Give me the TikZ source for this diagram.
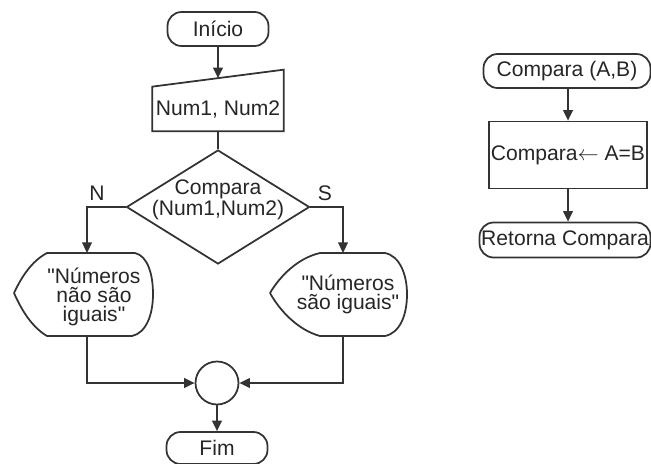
\documentclass[tikz,border=0pt]{standalone}
\usepackage{fontspec}
\setmainfont{Liberation Sans}[Ligatures=TeXOff]
\usepackage{tikz}
\usetikzlibrary{shapes.geometric,arrows.meta,calc}

\tikzset{
    flow/.style={draw=black!80, line width=1pt},
    arr/.style={flow, -{Triangle[length=6pt,width=5.5pt]}},
    terminal/.style={flow, rectangle, rounded corners=8pt,
        minimum height=0.68cm, inner sep=0pt},
    txt/.style={font=\fontsize{12}{10.8}\selectfont, text=black!85,
        align=center, inner sep=0pt}
}

\begin{document}
\begin{tikzpicture}[x=0.02cm, y=-0.02cm, every node/.append style={txt}]

    \useasboundingbox (0,0) rectangle (651,463);

    % Main flowchart
    \node[terminal, minimum width=2.02cm] (inicio) at (218,29) {Início};

    \node[minimum width=2.62cm, minimum height=0.88cm] (inp) at (218,109) {Num1, Num2};
    \draw[flow] (inp.south west) -- (inp.south east)
        -- ([yshift=0.34cm]inp.north east) -- (inp.north west) -- cycle;
    \coordinate (inptop) at ($(inp.north west)!0.5!([yshift=0.34cm]inp.north east)$);

    \node[flow, diamond, minimum width=3.66cm, minimum height=2.28cm,
        inner sep=0pt] (cmp) at (218,207) {};
    \node (cmptxt) at (218,200) {Compara\\(Num1,Num2)};

    \node (lblN) at (97,193) {N};
    \node (lblS) at (325,193) {S};

    % Display "not equal"
    \draw[flow] (14,293) .. controls (22,276) and (32,261) .. (47,253)
        -- (135,253) .. controls (148,256) and (153,275) .. (153,294)
        .. controls (153,315) and (146,333) .. (132,336)
        -- (47,336) .. controls (32,327) and (22,311) .. (14,293);
    \node (dispN) at (94,297) {"Números\\não são\\iguais"};
    \coordinate (dispNtop) at (87,253);
    \coordinate (dispNbot) at (87,336);

    % Display "equal"
    \draw[flow] (270,293) .. controls (280,276) and (298,258) .. (320,253)
        -- (385,253) .. controls (400,256) and (407,275) .. (407,294)
        .. controls (407,315) and (400,333) .. (385,336)
        -- (320,336) .. controls (298,330) and (280,311) .. (270,293);
    \node (dispS) at (348,294) {"Números\\são iguais"};
    \coordinate (dispStop) at (343,253);
    \coordinate (dispSbot) at (343,336);

    \node[flow, circle, minimum size=0.86cm] (junc) at (217,383) {};
    \node[terminal, minimum width=2.02cm, minimum height=0.64cm] (fim) at (217,448) {Fim};

    \draw[arr] (inicio) -- (inptop);
    \draw[flow] (inp.south) -- (cmp.north);
    \draw[arr] (cmp.west) -| (dispNtop);
    \draw[arr] (cmp.east) -| (dispStop);
    \draw[arr] (dispNbot) |- (junc.west);
    \draw[arr] (dispSbot) |- (junc.east);
    \draw[arr] (junc) -- (fim);

    % Function
    \node[terminal, minimum width=3.34cm] (cmpAB) at (567,71) {Compara (A,B)};
    \node[flow, rectangle, minimum width=3.16cm, minimum height=1.34cm] (atrib) at (568,155) {Compara$\leftarrow$ A=B};
    \node[terminal, minimum width=3.42cm, minimum height=0.70cm] (ret) at (565,240) {Retorna Compara};

    \draw[arr] (cmpAB.south -| atrib) -- (atrib);
    \draw[arr] (atrib) -- (atrib |- ret.north);

\end{tikzpicture}
\end{document}
